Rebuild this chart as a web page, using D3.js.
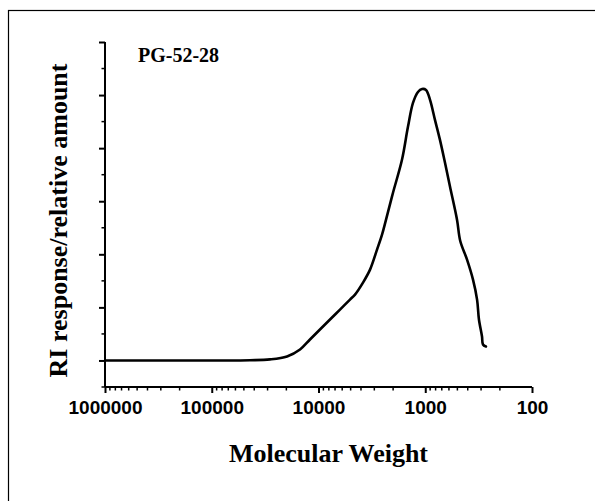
<!DOCTYPE html>
<html><head><meta charset="utf-8">
<script src="https://cdn.jsdelivr.net/npm/d3@7"></script>
<style>body{margin:0;background:#fff}svg{display:block}</style>
</head><body>
<svg id="c" width="595" height="501"></svg>
<script>
const molWeight = [1000000,128800,43850,28450,19720,14900,12020,9690,7800,6290,5070,4550,3830,3290,2830,2540,2330,2005,1652,1452,1303,1170,1072,984,902,811,728,653,586,504,470,406,357,327,314,294,288,270];
const riResponse = [0,0,0.005,0.02,0.075,0.207,0.395,0.583,0.771,0.959,1.147,1.241,1.467,1.711,2.088,2.37,2.652,3.16,3.78,4.401,4.852,5.059,5.115,5.097,4.909,4.533,4.156,3.724,3.273,2.652,2.25,1.9,1.523,1.147,0.771,0.451,0.301,0.263];
const xTickValues = [1000000,100000,10000,1000,100];
const xTickLabels = ["1000000","100000","10000","1000","100"];
const yMajorTicks = [0,1,2,3,4,5,6];
const yMinorTicks = [-0.5,0.5,1.5,2.5,3.5,4.5,5.5];
const sampleLabel = "PG-52-28";
const xTitle = "Molecular Weight";
const yTitle = "RI response/relative amount";

const svg = d3.select("#c");
svg.append("rect").attr("x",8.5).attr("y",10.5).attr("width",700).attr("height",700)
  .attr("fill","none").attr("stroke","#000").attr("stroke-width",1.2);

const x = d3.scaleLog().domain([1000000,100]).range([105,532]);
const y = d3.scaleLinear().domain([-0.5,6]).range([387,42]);

const xMinor = [];
for (let d=100; d<1000000; d*=10) for (let k=2;k<=9;k++) xMinor.push(d*k);
const gx = svg.append("g").attr("transform","translate(0,387)");
gx.selectAll("line.mn").data(xMinor).join("line").attr("class","mn")
  .attr("x1",d=>x(d)).attr("x2",d=>x(d)).attr("y1",0).attr("y2",3.5)
  .attr("stroke","#000").attr("stroke-width",1.5);
gx.call(d3.axisBottom(x).tickValues(xTickValues).tickFormat((d,i)=>xTickLabels[i]).tickSize(6).tickPadding(0));
gx.select(".domain").attr("d","M105,0H532").attr("stroke-width",2);
gx.selectAll(".tick line").attr("stroke-width",2);
gx.selectAll(".tick text").attr("dy",null).attr("y",27).attr("font-family","'Liberation Sans',Arial,sans-serif")
  .attr("font-weight","bold").attr("font-size",19).attr("fill","#000");

const gy = svg.append("g").attr("transform","translate(105,0)");
gy.selectAll("line.mn").data(yMinorTicks).join("line").attr("class","mn")
  .attr("x1",-3.5).attr("x2",0).attr("y1",d=>y(d)).attr("y2",d=>y(d))
  .attr("stroke","#000").attr("stroke-width",1.5);
gy.call(d3.axisLeft(y).tickValues(yMajorTicks).tickFormat("").tickSize(6));
gy.select(".domain").attr("d","M0,42V387").attr("stroke-width",2);
gy.selectAll(".tick line").attr("stroke-width",2);

const line = d3.line().x((d,i)=>x(molWeight[i])).y(d=>y(d)).curve(d3.curveCatmullRom.alpha(0.5));
svg.append("path").datum(riResponse).attr("d",line).attr("fill","none")
  .attr("stroke","#000").attr("stroke-width",2.6).attr("stroke-linecap","round").attr("stroke-linejoin","round");

const serif = "'Liberation Serif','Times New Roman',serif";
svg.append("text").attr("x",138).attr("y",62).text(sampleLabel)
  .attr("font-family",serif).attr("font-weight","bold").attr("font-size",20);
svg.append("text").attr("x",328.5).attr("y",462).attr("text-anchor","middle").text(xTitle)
  .attr("font-family",serif).attr("font-weight","bold").attr("font-size",26);
svg.append("text").attr("transform","translate(67,220.5) rotate(-90)").attr("text-anchor","middle").text(yTitle)
  .attr("font-family",serif).attr("font-weight","bold").attr("font-size",26);
</script>
</body></html>
